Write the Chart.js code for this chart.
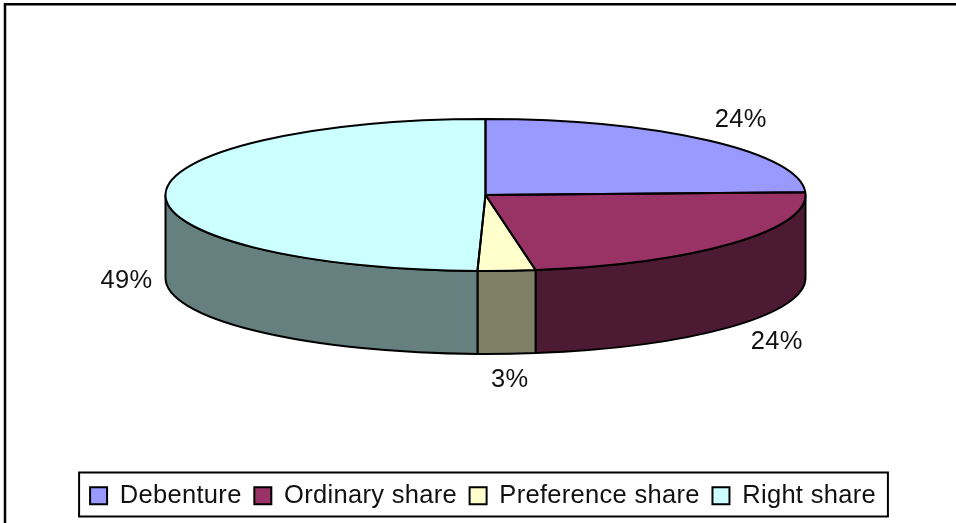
<!DOCTYPE html>
<html>
<head>
<meta charset="utf-8">
<style>
	html, body { margin: 0; padding: 0; background: #fff; }
	canvas { display: block; }
</style>
<script src="https://cdn.jsdelivr.net/npm/chart.js@4/dist/chart.umd.js"></script>
</head>
<body>
<canvas id="chart" width="956" height="523"></canvas>
<script>
// Values (slice widths), printed labels kept as shown
const categories = ['Debenture', 'Ordinary share', 'Preference share', 'Right share'];
const shareValues = [24.4, 23.1, 2.9, 49.6];
const percentLabels = ['24%', '24%', '3%', '49%'];
const topColors = ['#9999FF', '#993366', '#FFFFCC', '#CCFFFF'];
const wallColors = ['#4D4D80', '#4D1A33', '#808066', '#668080'];

const FONT = '"Liberation Sans", Arial, sans-serif';
const pieX = 485.5;
const pieY = 195;
const radiusX = 320;
const radiusY = 76;
const depth = 83;
// Small hand corrections so the labels land where the picture has them
const labelNudges = [[0, -2], [7, -1], [0, 0], [9, 4]];

// Plain Chart.js pie, squashed into an ellipse, with the side wall added underneath
const pie3d = {
	id: 'pie3d',
	beforeLayout(chart) {
		// The reference text runs wide, canvas gets reset on resize so set it here
		chart.ctx.letterSpacing = '0.3px';
	},
	beforeDatasetsDraw(chart) {
		const ctx = chart.ctx;
		const arcs = chart.getDatasetMeta(0).data;

		ctx.save();
		ctx.strokeStyle = '#000';
		ctx.lineWidth = 2;
		ctx.lineJoin = 'round';
		arcs.forEach((arc, i) => {
			const from = Math.max(arc.startAngle, 0);
			const to = Math.min(arc.endAngle, Math.PI);
			if (from >= to) return;
			ctx.beginPath();
			ctx.ellipse(pieX, pieY, radiusX, radiusY, 0, from, to);
			ctx.ellipse(pieX, pieY + depth, radiusX, radiusY, 0, to, from, true);
			ctx.closePath();
			ctx.fillStyle = wallColors[i];
			ctx.fill();
			ctx.stroke();
		});
		ctx.restore();

		// Slices get drawn by the library inside this transform
		ctx.save();
		ctx.translate(pieX, pieY);
		ctx.scale(radiusX / arcs[0].outerRadius, radiusY / arcs[0].outerRadius);
		ctx.translate(-arcs[0].x, -arcs[0].y);
	},
	afterDatasetsDraw(chart) {
		const ctx = chart.ctx;
		const arcs = chart.getDatasetMeta(0).data;
		ctx.restore();

		ctx.save();
		ctx.strokeStyle = '#000';
		ctx.lineWidth = 2;
		ctx.lineJoin = 'round';
		arcs.forEach(arc => {
			ctx.beginPath();
			ctx.moveTo(pieX, pieY);
			ctx.ellipse(pieX, pieY, radiusX, radiusY, 0, arc.startAngle, arc.endAngle);
			ctx.closePath();
			ctx.stroke();
		});

		// Percent labels sit outside each slice middle
		ctx.fillStyle = '#111';
		ctx.font = `25.5px ${FONT}`;
		ctx.textAlign = 'center';
		ctx.textBaseline = 'middle';
		arcs.forEach((arc, i) => {
			const mid = (arc.startAngle + arc.endAngle) / 2;
			const dropped = Math.sin(mid) > -0.1 ? depth : 0;
			const x = pieX + 368 * Math.cos(mid) + labelNudges[i][0];
			const y = pieY + 102 * Math.sin(mid) + dropped + labelNudges[i][1];
			ctx.fillText(percentLabels[i], x, y);
		});
		ctx.restore();
	},
	afterDraw(chart) {
		const ctx = chart.ctx;
		const boxes = chart.legend.legendHitBoxes;
		const last = boxes[boxes.length - 1];

		ctx.save();
		ctx.strokeStyle = '#000';
		ctx.lineWidth = 2;
		ctx.strokeRect(boxes[0].left - 11, boxes[0].top - 10.5, last.left + last.width - boxes[0].left + 23, 44);

		// Only the top and left of the outer frame are in the picture
		ctx.lineWidth = 2.5;
		ctx.beginPath();
		ctx.moveTo(956, 4.2);
		ctx.lineTo(5, 4.2);
		ctx.lineTo(5, 523);
		ctx.stroke();
		ctx.restore();
	}
};

new Chart(document.getElementById('chart'), {
	type: 'pie',
	data: {
		labels: categories,
		datasets: [{
			data: shareValues,
			backgroundColor: topColors,
			borderWidth: 0,
			radius: radiusX,
			clip: false
		}]
	},
	options: {
		responsive: false,
		animation: false,
		events: [],
		layout: { padding: { left: 10, right: 0, top: 0, bottom: 4.5 } },
		plugins: {
			tooltip: { enabled: false },
			legend: {
				position: 'bottom',
				labels: {
					font: { family: FONT, size: 25.5 },
					color: '#111',
					boxWidth: 17,
					boxHeight: 17,
					padding: 12.7,
					generateLabels(chart) {
						return Chart.overrides.pie.plugins.legend.labels.generateLabels(chart).map(item => {
							item.strokeStyle = '#000';
							item.lineWidth = 2;
							return item;
						});
					}
				}
			}
		}
	},
	plugins: [pie3d]
});
</script>
</body>
</html>
